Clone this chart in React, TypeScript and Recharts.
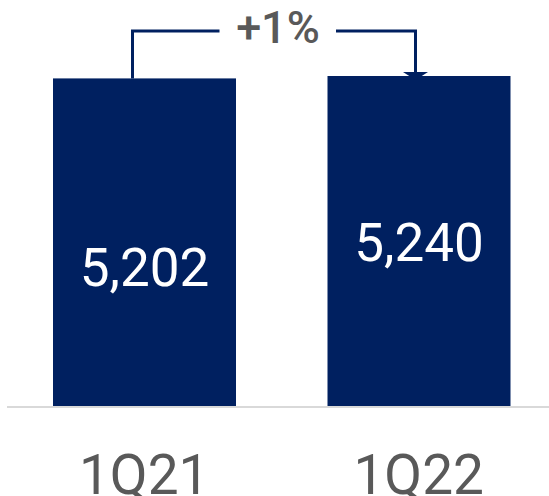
import React from "react";
import { BarChart, Bar, XAxis, YAxis, LabelList } from "recharts";

const categories = ["1Q21", "1Q22"];
const values = [5202, 5240];
const valueLabels = ["5,202", "5,240"];
const changeLabel = "+1%";

const data = categories.map((c, i) => ({ name: c, value: values[i], label: valueLabels[i] }));

const NAVY = "#002060";
const GRAY = "#595959";
const BRACKET_Y = 31;

const BarShape = (props: any) => {
  const { x, y, width, height, index } = props;
  const cx = x + width / 2;
  return (
    <g>
      <rect x={x} y={y} width={width} height={height} fill={NAVY} />
      {index === 0 && (
        <polyline
          points={`${cx - 12},${y} ${cx - 12},${BRACKET_Y} ${cx + 75},${BRACKET_Y}`}
          fill="none"
          stroke={NAVY}
          strokeWidth={3}
        />
      )}
      {index === 1 && (
        <g>
          <polyline
            points={`${cx - 83},${BRACKET_Y} ${cx - 3.5},${BRACKET_Y} ${cx - 3.5},${y - 4}`}
            fill="none"
            stroke={NAVY}
            strokeWidth={3}
          />
          <polygon
            points={`${cx - 16},${y - 4} ${cx + 9},${y - 4} ${cx - 3.5},${y + 4}`}
            fill={NAVY}
          />
          <text
            x={cx - 141}
            y={43}
            textAnchor="middle"
            fill={GRAY}
            fontSize={45}
            fontWeight={500}
            fontFamily="Roboto"
          >
            {changeLabel}
          </text>
        </g>
      )}
    </g>
  );
};

const ValueLabel = (props: any) => {
  const { x, y, width, height, index, value } = props;
  const extra = index === 0 ? 24 : 0;
  return (
    <text
      x={x + width / 2}
      y={y + height / 2 + extra + 19}
      textAnchor="middle"
      fill="#ffffff"
      fontSize={53}
      fontFamily="Roboto"
    >
      {value}
    </text>
  );
};

const Tick = (props: any) => {
  const { x, y, payload } = props;
  return (
    <text x={x} y={y + 87} textAnchor="middle" fill={GRAY} fontSize={55} fontFamily="Roboto">
      {payload.value}
    </text>
  );
};

export default function App() {
  return (
    <div style={{ position: "absolute", left: 0, top: 0, width: 549, height: 496, overflow: "hidden", background: "#fff" }}>
      <BarChart
        width={560}
        height={496}
        data={data}
        margin={{ top: 28, right: 4, left: 7, bottom: 0 }}
        barCategoryGap={0}
      >
        <XAxis
          dataKey="name"
          axisLine={{ stroke: "#d9d9d9", strokeWidth: 2 }}
          tickLine={false}
          tickSize={0}
          tickMargin={0}
          height={89}
          tick={<Tick />}
          interval={0}
        />
        <YAxis hide domain={[0, 6000]} />
        <Bar dataKey="value" barSize={183} isAnimationActive={false} shape={<BarShape />}>
          <LabelList dataKey="label" content={<ValueLabel />} />
        </Bar>
      </BarChart>
    </div>
  );
}
